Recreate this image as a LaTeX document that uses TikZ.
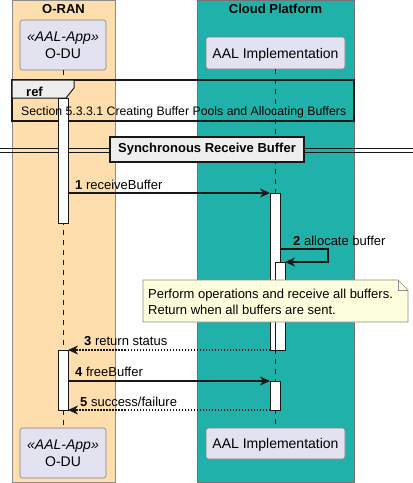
\documentclass[tikz,border=0pt]{standalone}
\usepackage{fontspec}
\setmainfont{Liberation Sans}
\usetikzlibrary{arrows.meta,positioning}
\definecolor{oranBox}{HTML}{FFDEAD}
\definecolor{cloudBox}{HTML}{20B2AA}
\definecolor{partFill}{HTML}{E2E2F0}
\definecolor{lineDark}{HTML}{181818}
\definecolor{noteFill}{HTML}{FEFFDD}
\definecolor{sepFill}{HTML}{EEEEEE}

\begin{document}
\begin{tikzpicture}[x=1pt, y=-1pt, >={Stealth[length=10pt,width=9pt,inset=3pt]},
  part/.style={draw=lineDark!55, fill=partFill, rounded corners=2.5pt, line width=0.6pt, inner sep=0pt, align=center, font=\fontsize{14}{17.5}\selectfont},
  actbar/.style={draw=lineDark, fill=white, line width=1pt, inner sep=0pt, outer sep=0pt, minimum width=10pt},
  msg/.style={->, draw=lineDark, line width=1.2pt},
  ret/.style={msg, dash pattern=on 1.5pt off 1.5pt},
  lbl/.style={font=\fontsize{13}{15}\selectfont, inner sep=0pt, anchor=base west},
  ttl/.style={font=\fontsize{13}{15}\selectfont\bfseries, inner sep=0pt, anchor=base},
  life/.style={draw=lineDark, line width=0.6pt, dash pattern=on 5pt off 5pt}]
\useasboundingbox (0,0) rectangle (413,483);
% boxes
\draw[black!45, fill=oranBox] (12,0) rectangle (115,482);
\draw[black!55, fill=cloudBox] (197,0) rectangle (354,482);
\node[ttl] (oranttl) at (63.5,13) {O-RAN};
\node[ttl] (cloudttl) at (275.5,13) {Cloud Platform};
% participants
\node[part, minimum width=86pt, minimum height=50pt] (odutop) at (63,45) {\textit{«AAL-App»}\\O-DU};
\node[part, minimum width=139pt, minimum height=32pt, text depth=0pt] (aaltop) at (275.5,53) {AAL Implementation};
\node[part, minimum width=86pt, minimum height=50pt] (odubot) at (63,453) {\textit{«AAL-App»}\\O-DU};
\node[part, minimum width=139pt, minimum height=31pt, text depth=0pt] (aalbot) at (275.5,443.5) {AAL Implementation};
\draw[life] (odutop.south) -- (odubot.north);
\draw[life] (aaltop.south -| 275,0) -- (aalbot.north -| 275,0);
% ref
\draw[lineDark, line width=1.5pt] (12,80) rectangle (354,121);
\draw[lineDark, line width=1pt, fill=sepFill] (12,80) -- (74,80) -- (74,88) -- (66,98) -- (12,98) -- cycle;
\node[ttl, anchor=base west] (reftag) at (26,96) {ref};
% divider
\draw[lineDark] (0,148.3) -- (413,148.3) (0,151.7) -- (413,151.7);
\node[draw=lineDark, fill=sepFill, line width=1.5pt, minimum width=194pt, minimum height=25pt, inner sep=0pt, font=\fontsize{13}{15}\selectfont\bfseries] (sep) at (207,149.5) {Synchronous Receive Buffer};
% activations
\node[actbar, minimum height=125pt] (bar1) at (63,160.5) {};
\node[actbar, minimum height=157pt] (bar2) at (275,271.5) {};
\node[actbar, minimum height=88pt] (bar3) at (280,306) {};
\node[actbar, minimum height=60pt] (bar4) at (63,380) {};
\node[actbar, minimum height=29pt] (bar5) at (275,395.5) {};
\node[lbl, font=\fontsize{12.3}{15}\selectfont] (reftxt) at (21,115) {Section 5.3.3.1 Creating Buffer Pools and Allocating Buffers};
% messages
\draw[msg] (bar1.east |- bar2.north) -- (bar2.north west);
\node[lbl] (lbl1) at (75,189) {\textbf{1} receiveBuffer};
\coordinate (turn2) at (328,249);
\draw[msg] (bar2.east |- turn2) -- (turn2) |- (bar3.north east);
\node[lbl] (lbl2) at (293,245) {\textbf{2} allocate buffer};
% note
\draw[black!45, fill=noteFill, line width=0.7pt] (143,280) -- (398,280) -- (408,290) -- (408,322) -- (143,322) -- cycle;
\draw[black!45, line width=0.7pt] (398,280) -- (398,290) -- (408,290);
\node[font=\fontsize{13}{16}\selectfont, inner sep=0pt, anchor=west, align=left] (notetxt) at (148,302) {Perform operations and receive all buffers.\\Return when all buffers are sent.};
\draw[ret] (bar2.south west) -- (bar4.north east);
\node[lbl] (lbl3) at (84,345.5) {\textbf{3} return status};
\draw[msg] (bar4.east |- bar5.north) -- (bar5.north west);
\node[lbl] (lbl4) at (75,376) {\textbf{4} freeBuffer};
\draw[ret] (bar5.south west) -- (bar4.south east);
\node[lbl] (lbl5) at (80,406) {\textbf{5} success/failure};
\end{tikzpicture}
\end{document}
